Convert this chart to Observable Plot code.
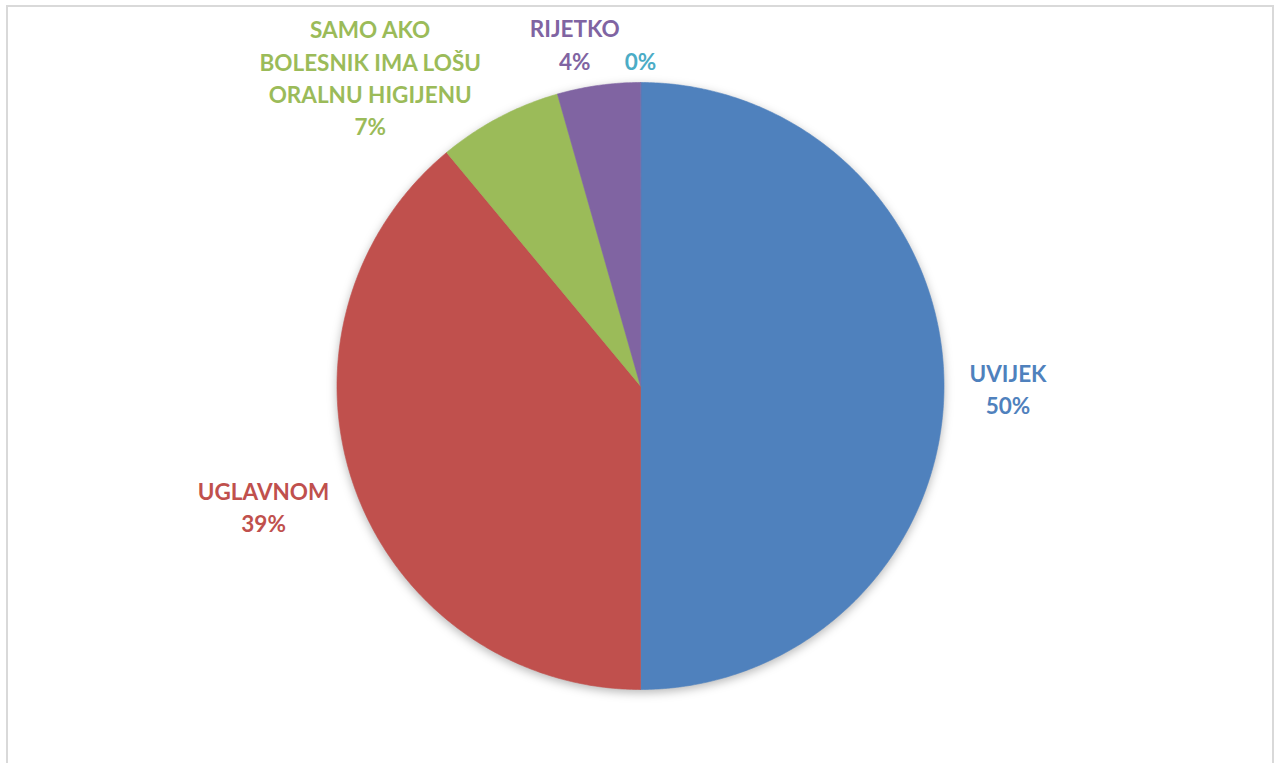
<!DOCTYPE html>
<html><head><meta charset="utf-8">
<script src="https://cdn.jsdelivr.net/npm/d3@7"></script>
<script src="https://cdn.jsdelivr.net/npm/@observablehq/plot@0.6"></script>
<style>
html,body{margin:0;padding:0;background:#fff;}
#wrap{position:relative;width:1276px;height:763px;overflow:hidden;}
#frame{position:absolute;left:6px;top:5px;width:1268px;height:820px;border:2px solid #d9d9d9;box-sizing:border-box;}
#chart{position:absolute;left:0;top:0;}
</style></head><body>
<div id="wrap"><div id="frame"></div><div id="chart"></div></div>
<script>
// ---- data ----
const categories = ["UVIJEK", "UGLAVNOM", "SAMO AKO BOLESNIK IMA LOŠU ORALNU HIGIJENU", "RIJETKO", "NIKAD"];
const labelNames = ["UVIJEK", "UGLAVNOM", "SAMO AKO\nBOLESNIK IMA LOŠU\nORALNU HIGIJENU", "RIJETKO", ""];
const counts = [68, 53, 9, 6, 0];
const colors = ["#4F81BD", "#C0504D", "#9BBB59", "#8064A2", "#4BACC6"];

// ---- layout ----
const W = 1276, H = 763, cx = 640, cy = 385.5, R = 303.5;
const FONT = "Lato", FS = 22.5, LH = 1.44;
// Excel "best fit" label shifts (pixels)
const nudge = {"UVIJEK":[0,1.5], "UGLAVNOM":[1,-17], "SAMO AKO BOLESNIK IMA LOŠU ORALNU HIGIJENU":[-66,78], "RIJETKO":[-15,21], "NIKAD":[0,18.5]};

const rows = categories.map((c, i) => ({cat: c, count: counts[i], name: labelNames[i]}));
const total = d3.sum(counts);
const arcs = d3.pie().sort(null).value(d => d.count)(rows);

// slice polygons in unit-circle coordinates
const slicePts = [];
for (const a of arcs) {
  if (a.endAngle - a.startAngle <= 0) continue;
  slicePts.push({cat: a.data.cat, x: 0, y: 0});
  const n = Math.max(2, Math.ceil((a.endAngle - a.startAngle) / 0.01));
  for (let k = 0; k <= n; k++) {
    const t = a.startAngle + (a.endAngle - a.startAngle) * k / n;
    slicePts.push({cat: a.data.cat, x: Math.sin(t), y: Math.cos(t)});
  }
}

// labels
const ctx = document.createElement("canvas").getContext("2d");
ctx.font = `bold ${FS}px ${FONT}`;
const labels = arcs.map(a => {
  const pct = Math.round(a.data.count / total * 100) + "%";
  const text = a.data.name ? a.data.name + "\n" + pct : pct;
  const lines = text.split("\n");
  const w = d3.max(lines, l => ctx.measureText(l).width);
  const h = lines.length * FS * LH;
  const mid = (a.startAngle + a.endAngle) / 2;
  const ux = Math.sin(mid), uy = Math.cos(mid);
  const dist = R + 25.5 + Math.abs(ux) * w / 2 + Math.abs(uy) * h / 2;
  const [nx, ny] = nudge[a.data.cat];
  return {cat: a.data.cat, text, x: (ux * dist + nx) / R, y: (uy * dist - ny) / R};
});

const plot = Plot.plot({
  width: W, height: H,
  marginLeft: cx - R, marginRight: W - (cx + R),
  marginTop: cy - R, marginBottom: H - (cy + R),
  x: {domain: [-1, 1], axis: null},
  y: {domain: [-1, 1], axis: null},
  color: {domain: categories, range: colors},
  style: {background: "transparent", overflow: "visible"},
  marks: [
    Plot.line(slicePts, {x: "x", y: "y", z: "cat", fill: "cat", stroke: "cat", strokeWidth: 0.6, curve: "linear-closed"}),
    Plot.text(labels, {x: "x", y: "y", text: "text", fill: "cat", fontSize: FS, fontWeight: "bold",
      fontFamily: FONT, lineHeight: LH, textAnchor: "middle", lineAnchor: "middle"})
  ]
});
document.getElementById("chart").appendChild(plot);
plot.querySelectorAll('g[aria-label="line"]').forEach(g => {
  g.style.filter = "drop-shadow(0px 3px 5px rgba(0,0,0,0.28))";
});
</script>
</body></html>
